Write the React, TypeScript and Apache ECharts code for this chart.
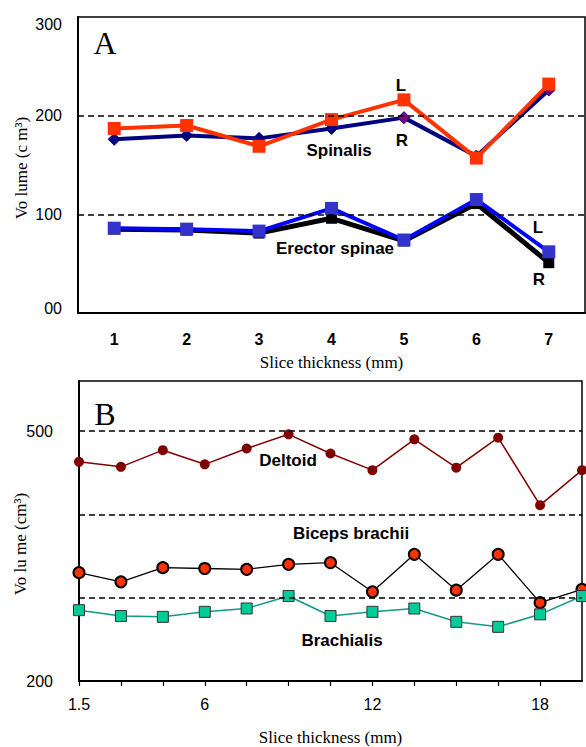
import React, { useEffect, useRef } from "react";
import * as echarts from "echarts";

// Panel A
const CATS_A = ["1", "2", "3", "4", "5", "6", "7"];
const SPINALIS_R = [176, 180, 177, 187, 198, 159, 226];
const SPINALIS_L = [187, 190, 169, 196, 216, 157, 232];
const ERECTOR_R = [85, 84, 81, 96, 73, 111, 51];
const ERECTOR_L = [86, 85, 83, 106, 74, 115, 62];
const DASH_A = [100, 200];

// Panel B
const X_B = [1.5, 3, 4.5, 6, 7.5, 9, 10.5, 12, 13.5, 15, 16.5, 18, 19.5];
const DELTOID = [463, 457, 477, 460, 479, 496, 473, 453, 490, 456, 492, 411, 453];
const BICEPS = [330, 319, 336, 335, 334, 340, 342, 307, 352, 309, 352, 294, 310];
const BRACHIALIS = [285, 278, 277, 283, 287, 302, 278, 283, 287, 271, 265, 280, 302];
const DASH_B = [300, 400, 500];
const X_LABELS_B = [1.5, 6, 12, 18];
const Y_LABELS_B = [200, 500];

const SANS = "Liberation Sans";
const SERIF = "Liberation Serif";

export default function App() {
  const ref = useRef<HTMLDivElement>(null);
  useEffect(() => {
    if (!ref.current) return;
    const chart = echarts.init(ref.current, undefined, { renderer: "svg" });
    const dash = { type: [6, 4] as any, color: "#000", width: 1.5 };
    const pairs = (ys: number[]) => X_B.map((x, i) => [x, ys[i]]);
    const label = (text: string, x: number, y: number, size = 17) => ({
      type: "text",
      x,
      y,
      style: {
        text,
        fontFamily: SANS,
        fontWeight: "bold",
        fontSize: size,
        fill: "#000",
        textAlign: "center",
        textVerticalAlign: "middle",
      },
    });
    chart.setOption({
      animation: false,
      backgroundColor: "#fff",
      grid: [
        { left: 78, top: 17, width: 507, height: 296, show: true, borderColor: "#000", borderWidth: 1.5, backgroundColor: "transparent" },
        { left: 79, top: 381, width: 503, height: 302, show: true, borderColor: "#000", borderWidth: 1.5, backgroundColor: "transparent" },
      ],
      xAxis: [
        {
          gridIndex: 0,
          type: "category",
          data: CATS_A,
          boundaryGap: true,
          axisLine: { lineStyle: { color: "#000", width: 2 } },
          axisTick: { alignWithLabel: true, length: 7, lineStyle: { color: "#000", width: 1.5 } },
          axisLabel: { color: "#000", fontFamily: SANS, fontWeight: "bold", fontSize: 16, margin: 18 },
          splitLine: { show: false },
          name: "Slice thickness (mm)",
          nameLocation: "middle",
          nameGap: 41,
          nameTextStyle: { color: "#000", fontFamily: SERIF, fontSize: 17 },
        },
        {
          gridIndex: 1,
          type: "value",
          min: 1.5,
          max: 19.5,
          interval: 1.5,
          axisLine: { lineStyle: { color: "#000", width: 2 } },
          axisTick: { length: 5, lineStyle: { color: "#000", width: 1.2 } },
          axisLabel: {
            color: "#000",
            fontFamily: SANS,
            fontSize: 16,
            margin: 15,
            showMaxLabel: false,
            formatter: (v: number) => (X_LABELS_B.some((t) => Math.abs(t - v) < 1e-6) ? String(v) : ""),
          },
          splitLine: { show: false },
          name: "Slice thickness (mm)",
          nameLocation: "middle",
          nameGap: 48,
          nameTextStyle: { color: "#000", fontFamily: SERIF, fontSize: 17 },
        },
      ],
      yAxis: [
        {
          gridIndex: 0,
          type: "value",
          min: 0,
          max: 300,
          interval: 100,
          axisLine: { show: true, lineStyle: { color: "#000", width: 2 } },
          axisTick: { show: false },
          splitLine: { show: false },
          axisLabel: {
            color: "#000",
            fontFamily: SANS,
            fontSize: 16,
            margin: 16,
            formatter: (v: number) => (v === 300 ? "{t|300}" : v === 0 ? "{b|00}" : String(v)),
            rich: {
              t: { padding: [14, 0, 0, 0], fontFamily: SANS, fontSize: 16, color: "#000" },
              b: { padding: [0, 0, 10, 0], fontFamily: SANS, fontSize: 16, color: "#000" },
            },
          },
        },
        {
          gridIndex: 1,
          type: "value",
          min: 200,
          max: 560,
          interval: 100,
          axisLine: { show: true, lineStyle: { color: "#000", width: 2 } },
          axisTick: { show: false },
          splitLine: { show: false },
          axisLabel: {
            color: "#000",
            fontFamily: SANS,
            fontSize: 16,
            margin: 26,
            showMaxLabel: false,
            formatter: (v: number) => (Y_LABELS_B.includes(v) ? String(v) : ""),
          },
        },
      ],
      series: [
        {
          type: "line",
          xAxisIndex: 0,
          yAxisIndex: 0,
          data: [],
          z: 1,
          markLine: { silent: true, symbol: "none", label: { show: false }, lineStyle: dash, data: DASH_A.map((v) => ({ yAxis: v })) },
        },
        {
          name: "Spinalis R",
          type: "line",
          xAxisIndex: 0,
          yAxisIndex: 0,
          data: SPINALIS_R,
          z: 2,
          symbol: "diamond",
          symbolSize: 12,
          lineStyle: { color: "#000080", width: 4 },
          itemStyle: {
            color: (p: any) => (p.dataIndex >= 4 ? "#800080" : "#000080"),
            borderColor: "#000080",
            borderWidth: 1,
          },
        },
        {
          name: "Spinalis L",
          type: "line",
          xAxisIndex: 0,
          yAxisIndex: 0,
          data: SPINALIS_L,
          z: 3,
          symbol: "rect",
          symbolSize: 13,
          lineStyle: { color: "#ff3300", width: 4 },
          itemStyle: { color: "#ff3300" },
        },
        {
          name: "Erector spinae R",
          type: "line",
          xAxisIndex: 0,
          yAxisIndex: 0,
          data: ERECTOR_R,
          z: 2,
          symbol: "rect",
          symbolSize: 11,
          lineStyle: { color: "#000", width: 5 },
          itemStyle: { color: "#000" },
        },
        {
          name: "Erector spinae L",
          type: "line",
          xAxisIndex: 0,
          yAxisIndex: 0,
          data: ERECTOR_L,
          z: 3,
          symbol: "rect",
          symbolSize: 13,
          lineStyle: { color: "#0000ff", width: 4 },
          itemStyle: { color: "#3333cc" },
        },
        {
          type: "line",
          xAxisIndex: 1,
          yAxisIndex: 1,
          data: [],
          z: 1,
          markLine: { silent: true, symbol: "none", label: { show: false }, lineStyle: dash, data: DASH_B.map((v) => ({ yAxis: v })) },
        },
        {
          name: "Deltoid",
          type: "line",
          xAxisIndex: 1,
          yAxisIndex: 1,
          data: pairs(DELTOID),
          z: 2,
          symbol: "circle",
          symbolSize: 10,
          lineStyle: { color: "#800000", width: 1.5 },
          itemStyle: { color: "#800000" },
        },
        {
          name: "Biceps brachii",
          type: "line",
          xAxisIndex: 1,
          yAxisIndex: 1,
          data: pairs(BICEPS),
          z: 2,
          symbol: "circle",
          symbolSize: 11,
          lineStyle: { color: "#000", width: 1.3 },
          itemStyle: { color: "#ff3300", borderColor: "#000", borderWidth: 2 },
        },
        {
          name: "Brachialis",
          type: "line",
          xAxisIndex: 1,
          yAxisIndex: 1,
          data: pairs(BRACHIALIS),
          z: 2,
          symbol: "rect",
          symbolSize: 11,
          lineStyle: { color: "#119988", width: 1.5 },
          itemStyle: { color: "#00cc99", borderColor: "#333", borderWidth: 1 },
        },
      ],
      graphic: [
        { type: "text", x: 105, y: 43, style: { text: "A", fontFamily: SERIF, fontSize: 32, fill: "#000", textAlign: "center", textVerticalAlign: "middle" } },
        { type: "text", x: 105, y: 414, style: { text: "B", fontFamily: SERIF, fontSize: 32, fill: "#000", textAlign: "center", textVerticalAlign: "middle" } },
        label("L", 401, 85),
        label("R", 402, 140),
        label("Spinalis", 339, 150),
        label("Erector spinae", 335, 248),
        label("L", 538, 227),
        label("R", 539, 279),
        label("Deltoid", 288, 460),
        label("Biceps brachii", 351, 533),
        label("Brachialis", 342, 640),
        {
          type: "text",
          x: 21,
          y: 168,
          rotation: Math.PI / 2,
          style: { text: "Vo lume (c m³)", fontFamily: SERIF, fontSize: 17, fill: "#000", textAlign: "center", textVerticalAlign: "middle" },
        },
        {
          type: "text",
          x: 20,
          y: 544,
          rotation: Math.PI / 2,
          style: { text: "Vo lu me (cm³)", fontFamily: SERIF, fontSize: 17, fill: "#000", textAlign: "center", textVerticalAlign: "middle" },
        },
      ],
    });
    return () => chart.dispose();
  }, []);
  return <div ref={ref} style={{ position: "absolute", left: 0, top: 0, width: 586, height: 747 }} />;
}
